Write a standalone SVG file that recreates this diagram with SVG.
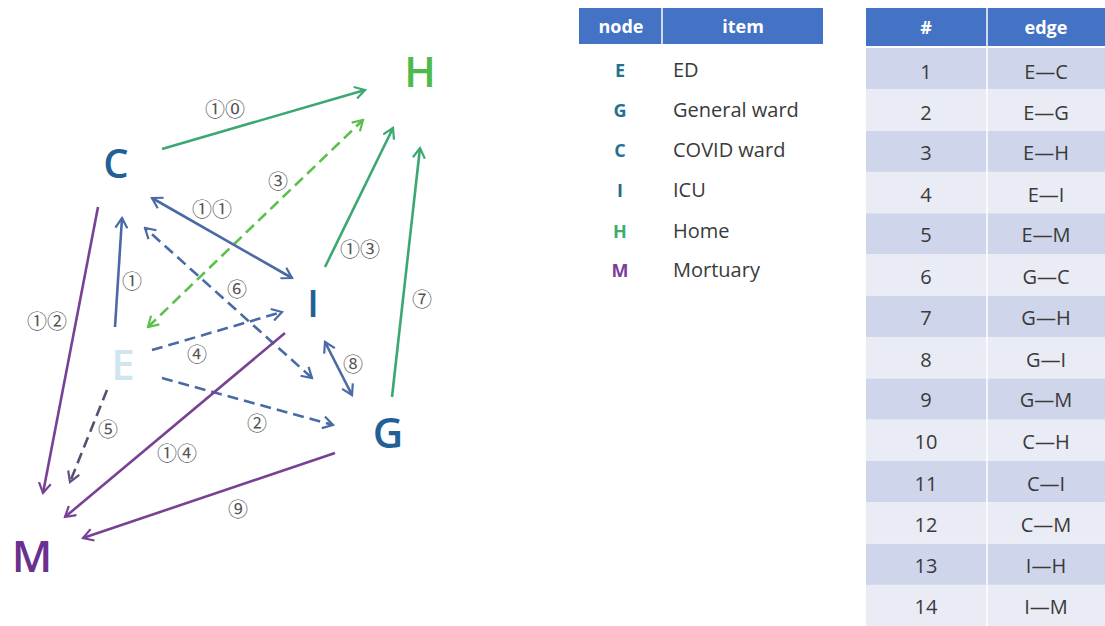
<svg xmlns="http://www.w3.org/2000/svg" width="1105" height="626" viewBox="0 0 1105 626">
<style>
.node{font-family:"Open Sans","Liberation Sans",sans-serif;font-weight:600;text-anchor:middle}
.lbl{font-family:"Noto Sans CJK JP","DejaVu Sans",sans-serif;font-size:20px;fill:#555;text-anchor:middle;dominant-baseline:central}
.e{fill:none;stroke-width:2.6}
.blue{stroke:#4a6aa5}
.green{stroke:#3aa870}
.lgreen{stroke:#5cc04c}
.purple{stroke:#774296}
.gp{stroke:#5a4f70}
.dash{stroke-dasharray:11 6}
.th{font-family:"Open Sans","Liberation Sans",sans-serif;font-weight:700;font-size:18px;fill:#fff;text-anchor:middle}
.td{font-family:"Open Sans","Liberation Sans",sans-serif;font-size:20px;fill:#3a3a3a}
.tc{text-anchor:middle}
.key{font-family:"Open Sans","Liberation Sans",sans-serif;font-weight:700;font-size:18px;text-anchor:middle}
</style>
<defs>
<marker id="ab" viewBox="0 0 14 14" refX="12" refY="7" markerWidth="14" markerHeight="14" markerUnits="userSpaceOnUse" orient="auto-start-reverse"><path d="M2,1 L12,7 L2,13" fill="none" stroke="#4a6aa5" stroke-width="2.2"/></marker>
<marker id="ag" viewBox="0 0 14 14" refX="12" refY="7" markerWidth="14" markerHeight="14" markerUnits="userSpaceOnUse" orient="auto-start-reverse"><path d="M2,1 L12,7 L2,13" fill="none" stroke="#3aa870" stroke-width="2.2"/></marker>
<marker id="alg" viewBox="0 0 14 14" refX="12" refY="7" markerWidth="14" markerHeight="14" markerUnits="userSpaceOnUse" orient="auto-start-reverse"><path d="M2,1 L12,7 L2,13" fill="none" stroke="#5cc04c" stroke-width="2.2"/></marker>
<marker id="ap" viewBox="0 0 14 14" refX="12" refY="7" markerWidth="14" markerHeight="14" markerUnits="userSpaceOnUse" orient="auto-start-reverse"><path d="M2,1 L12,7 L2,13" fill="none" stroke="#774296" stroke-width="2.2"/></marker>
<marker id="agp" viewBox="0 0 14 14" refX="12" refY="7" markerWidth="14" markerHeight="14" markerUnits="userSpaceOnUse" orient="auto-start-reverse"><path d="M2,1 L12,7 L2,13" fill="none" stroke="#6a4a8a" stroke-width="2.2"/></marker>
</defs>
<rect width="1105" height="626" fill="#fff"/>

<g id="connectors">
<line id="e1" class="e blue" x1="115" y1="327" x2="122" y2="218" marker-end="url(#ab)"/>
<line id="e2" class="e blue dash" x1="162" y1="378" x2="333" y2="425" marker-end="url(#ab)"/>
<line id="e3" class="e lgreen dash" x1="148" y1="327" x2="363" y2="120" marker-start="url(#alg)" marker-end="url(#alg)"/>
<line id="e4" class="e blue dash" x1="152" y1="350" x2="282" y2="312" marker-end="url(#ab)"/>
<line id="e5" class="e gp dash" x1="107" y1="390" x2="70" y2="482" marker-end="url(#agp)"/>
<line id="e6" class="e blue dash" x1="312" y1="378" x2="145" y2="228" marker-start="url(#ab)" marker-end="url(#ab)"/>
<line id="e7" class="e green" x1="392" y1="397" x2="420" y2="148" marker-end="url(#ag)"/>
<line id="e8" class="e blue" x1="325" y1="342" x2="352" y2="395" marker-start="url(#ab)" marker-end="url(#ab)"/>
<line id="e9" class="e purple" x1="335" y1="453" x2="83" y2="538" marker-end="url(#ap)"/>
<line id="e10" class="e green" x1="162" y1="149" x2="365" y2="90" marker-end="url(#ag)"/>
<line id="e11" class="e blue" x1="152" y1="198" x2="292" y2="278" marker-start="url(#ab)" marker-end="url(#ab)"/>
<line id="e12" class="e purple" x1="98" y1="207" x2="43" y2="493" marker-end="url(#ap)"/>
<line id="e13" class="e green" x1="325" y1="267" x2="393" y2="128" marker-end="url(#ag)"/>
<line id="e14" class="e purple" x1="285" y1="333" x2="65" y2="517" marker-end="url(#ap)"/>
<g id="edge-labels">
<text class="lbl" x="225" y="108">①⓪</text>
<text class="lbl" x="278" y="180">③</text>
<text class="lbl" x="212" y="208">①①</text>
<text class="lbl" x="360" y="248">①③</text>
<text class="lbl" x="422" y="298">⑦</text>
<text class="lbl" x="132" y="280">①</text>
<text class="lbl" x="237" y="288">⑥</text>
<text class="lbl" x="47" y="320">①②</text>
<text class="lbl" x="197" y="353">④</text>
<text class="lbl" x="353" y="363">⑧</text>
<text class="lbl" x="177" y="452">①④</text>
<text class="lbl" x="257" y="422">②</text>
<text class="lbl" x="108" y="428">⑤</text>
<text class="lbl" x="238" y="508">⑨</text>
</g>
</g>

<g id="node-H"><text class="node" x="420" y="87" font-size="42" fill="#4cbb4c">H</text></g>
<g id="node-C"><text class="node" x="116" y="178" font-size="40" fill="#1f6196">C</text></g>
<g id="node-I"><text class="node" x="313" y="317" font-size="38" fill="#1f6196">I</text></g>
<g id="node-E"><text class="node" x="123" y="380" font-size="42" fill="#cfe5f0">E</text></g>
<g id="node-G"><text class="node" x="388" y="448" font-size="42" fill="#1f6196">G</text></g>
<g id="node-M"><text class="node" x="32" y="572" font-size="44" fill="#6b2f8f">M</text></g>

<g id="table-nodes">
<rect x="579" y="8" width="244" height="36" fill="#4472c4"/>
<line x1="662" y1="8" x2="662" y2="44" stroke="#fff" stroke-width="1.5"/>
<text class="th" x="621" y="33">node</text>
<text class="th" x="743" y="33">item</text>
<text class="key" x="620" y="77" fill="#1f7391">E</text><text class="td" x="673" y="77">ED</text>
<text class="key" x="620" y="117" fill="#1f7391">G</text><text class="td" x="673" y="117">General ward</text>
<text class="key" x="620" y="157" fill="#1f7391">C</text><text class="td" x="673" y="157">COVID ward</text>
<text class="key" x="620" y="197" fill="#1f6a8c">I</text><text class="td" x="673" y="197">ICU</text>
<text class="key" x="620" y="238" fill="#3aae6a">H</text><text class="td" x="673" y="238">Home</text>
<text class="key" x="620" y="277" fill="#7e3c99">M</text><text class="td" x="673" y="277">Mortuary</text>
</g>

<g id="table-edges">
<rect x="866" y="8" width="239" height="38" fill="#4472c4"/>
<text class="th" x="926" y="34">#</text>
<text class="th" x="1046" y="34">edge</text>
<g fill="#cfd5ea">
<rect x="866" y="48" width="239" height="41.3"/>
<rect x="866" y="130.6" width="239" height="41.3"/>
<rect x="866" y="213.2" width="239" height="41.3"/>
<rect x="866" y="295.8" width="239" height="41.3"/>
<rect x="866" y="378.4" width="239" height="41.3"/>
<rect x="866" y="461" width="239" height="41.3"/>
<rect x="866" y="543.6" width="239" height="41.3"/>
</g>
<g fill="#e9ebf5">
<rect x="866" y="89.3" width="239" height="41.3"/>
<rect x="866" y="171.9" width="239" height="41.3"/>
<rect x="866" y="254.5" width="239" height="41.3"/>
<rect x="866" y="337.1" width="239" height="41.3"/>
<rect x="866" y="419.7" width="239" height="41.3"/>
<rect x="866" y="502.3" width="239" height="41.3"/>
<rect x="866" y="584.9" width="239" height="41.1"/>
</g>
<line x1="987" y1="8" x2="987" y2="626" stroke="#fff" stroke-width="1.5"/>
<g class="td">
<text class="tc" x="926" y="79">1</text><text class="tc" x="1046" y="79">E—C</text>
<text class="tc" x="926" y="120">2</text><text class="tc" x="1046" y="120">E—G</text>
<text class="tc" x="926" y="160">3</text><text class="tc" x="1046" y="160">E—H</text>
<text class="tc" x="926" y="202">4</text><text class="tc" x="1046" y="202">E—I</text>
<text class="tc" x="926" y="242">5</text><text class="tc" x="1046" y="242">E—M</text>
<text class="tc" x="926" y="284">6</text><text class="tc" x="1046" y="284">G—C</text>
<text class="tc" x="926" y="325">7</text><text class="tc" x="1046" y="325">G—H</text>
<text class="tc" x="926" y="367">8</text><text class="tc" x="1046" y="367">G—I</text>
<text class="tc" x="926" y="407">9</text><text class="tc" x="1046" y="407">G—M</text>
<text class="tc" x="926" y="449">10</text><text class="tc" x="1046" y="449">C—H</text>
<text class="tc" x="926" y="491">11</text><text class="tc" x="1046" y="491">C—I</text>
<text class="tc" x="926" y="532">12</text><text class="tc" x="1046" y="532">C—M</text>
<text class="tc" x="926" y="573">13</text><text class="tc" x="1046" y="573">I—H</text>
<text class="tc" x="926" y="614">14</text><text class="tc" x="1046" y="614">I—M</text>
</g>
</g>
</svg>
